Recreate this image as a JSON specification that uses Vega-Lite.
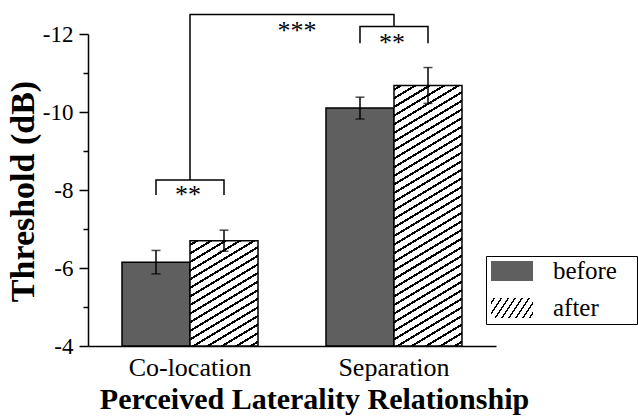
{
 "$schema": "https://vega.github.io/schema/vega-lite/v6.json",
 "width": 408,
 "height": 312,
 "autosize": {"type": "none"},
 "padding": {"left": 88, "top": 34, "right": 142, "bottom": 71},
 "background": "white",
 "config": {"view": {"stroke": null}, "font": "Liberation Serif"},
 "data": {"values": [
  {"group": "Co-location", "cond": "before", "value": -6.15, "lo": -6.45, "hi": -5.85},
  {"group": "Co-location", "cond": "after", "value": -6.70, "lo": -6.97, "hi": -6.43},
  {"group": "Separation", "cond": "before", "value": -10.10, "lo": -10.38, "hi": -9.82},
  {"group": "Separation", "cond": "after", "value": -10.68, "lo": -11.14, "hi": -10.22}
 ]},
 "encoding": {
  "x": {"field": "group", "type": "nominal", "sort": ["Co-location", "Separation"],
   "scale": {"type": "band", "paddingInner": 0.3333, "paddingOuter": 0.1667},
   "title": "Perceived Laterality Relationship",
   "axis": {"domainColor": "black", "domainWidth": 1.5, "ticks": false, "tickSize": 0, "grid": false,
    "labelFont": "Liberation Serif", "labelFontSize": 26, "labelColor": "black", "labelBaseline": "alphabetic", "labelPadding": 29, "labelAngle": 0,
    "titleFont": "Liberation Serif", "titleFontSize": 30, "titleFontWeight": "bold", "titleColor": "black", "titleBaseline": "alphabetic", "titleAlign": "center", "titleX": 226, "titleY": 62}
  },
  "y": {"type": "quantitative",
   "scale": {"domain": [-12, -4], "reverse": true, "nice": false, "zero": false},
   "title": "Threshold (dB)",
   "axis": {"values": [-12, -11, -10, -9, -8, -7, -6, -5, -4],
    "labelExpr": "datum.value % 2 === 0 ? '-' + abs(datum.value) : ''",
    "domainColor": "black", "domainWidth": 1.5, "tickColor": "black", "tickWidth": 1.5,
    "tickSize": {"condition": {"test": "datum.value % 2 === 0", "value": 9}, "value": 5},
    "grid": false, "labelFont": "Liberation Serif", "labelFontSize": 23, "labelColor": "black", "labelPadding": 6,
    "titleFont": "Liberation Serif", "titleFontSize": 34, "titleFontWeight": "bold", "titleColor": "black",
    "titleX": -55, "titleY": 157, "titleAlign": "center", "titleBaseline": "alphabetic", "titleAngle": 270}
  }
 },
 "layer": [
  {
   "mark": {"type": "bar", "stroke": "black", "strokeWidth": 1.5},
   "encoding": {
    "xOffset": {"field": "cond", "type": "nominal", "sort": ["before", "after"], "scale": {"type": "band", "paddingInner": 0, "paddingOuter": 0}},
    "y": {"field": "value", "type": "quantitative"},
    "y2": {"datum": -4},
    "stroke": {"value": "black"},
    "opacity": {
     "field": "cond", "type": "nominal",
     "scale": {"type": "ordinal", "domain": ["before", "after"], "range": [1, 1]},
     "legend": {
      "orient": "none", "legendX": 398, "legendY": 222, "title": null, "padding": 2,
      "symbolType": "M-0.905,-0.895H3.095V1.01H-0.905Z", "symbolSize": 441,
      "symbolStrokeColor": "black", "symbolStrokeWidth": 1.5,
      "labelFont": "Liberation Serif", "labelFontSize": 25, "labelColor": "black", "labelOffset": 40,
      "rowPadding": 10,
      "labelExpr": "datum.label + '\u2800'",
      "strokeColor": "black", "fillColor": "white"
     }
    },
    "fill": {
     "condition": [
      {"test": "datum.cond === 'after' && datum.group === 'Co-location'", "value": {"gradient": "linear", "x1": 0, "y1": 0, "x2": 0.4674, "y2": 1.2063, "stops": [
       {"offset": 0, "color": "#fff"},
       {"offset": 0.02118, "color": "#fff"}, {"offset": 0.02118, "color": "#000"}, {"offset": 0.03765, "color": "#000"}, {"offset": 0.03765, "color": "#fff"},
       {"offset": 0.08, "color": "#fff"}, {"offset": 0.08, "color": "#000"}, {"offset": 0.09647, "color": "#000"}, {"offset": 0.09647, "color": "#fff"},
       {"offset": 0.13882, "color": "#fff"}, {"offset": 0.13882, "color": "#000"}, {"offset": 0.15529, "color": "#000"}, {"offset": 0.15529, "color": "#fff"},
       {"offset": 0.19765, "color": "#fff"}, {"offset": 0.19765, "color": "#000"}, {"offset": 0.21412, "color": "#000"}, {"offset": 0.21412, "color": "#fff"},
       {"offset": 0.25647, "color": "#fff"}, {"offset": 0.25647, "color": "#000"}, {"offset": 0.27294, "color": "#000"}, {"offset": 0.27294, "color": "#fff"},
       {"offset": 0.31529, "color": "#fff"}, {"offset": 0.31529, "color": "#000"}, {"offset": 0.33176, "color": "#000"}, {"offset": 0.33176, "color": "#fff"},
       {"offset": 0.37412, "color": "#fff"}, {"offset": 0.37412, "color": "#000"}, {"offset": 0.39059, "color": "#000"}, {"offset": 0.39059, "color": "#fff"},
       {"offset": 0.43294, "color": "#fff"}, {"offset": 0.43294, "color": "#000"}, {"offset": 0.44941, "color": "#000"}, {"offset": 0.44941, "color": "#fff"},
       {"offset": 0.49176, "color": "#fff"}, {"offset": 0.49176, "color": "#000"}, {"offset": 0.50824, "color": "#000"}, {"offset": 0.50824, "color": "#fff"},
       {"offset": 0.55059, "color": "#fff"}, {"offset": 0.55059, "color": "#000"}, {"offset": 0.56706, "color": "#000"}, {"offset": 0.56706, "color": "#fff"},
       {"offset": 0.60941, "color": "#fff"}, {"offset": 0.60941, "color": "#000"}, {"offset": 0.62588, "color": "#000"}, {"offset": 0.62588, "color": "#fff"},
       {"offset": 0.66824, "color": "#fff"}, {"offset": 0.66824, "color": "#000"}, {"offset": 0.68471, "color": "#000"}, {"offset": 0.68471, "color": "#fff"},
       {"offset": 0.72706, "color": "#fff"}, {"offset": 0.72706, "color": "#000"}, {"offset": 0.74353, "color": "#000"}, {"offset": 0.74353, "color": "#fff"},
       {"offset": 0.78588, "color": "#fff"}, {"offset": 0.78588, "color": "#000"}, {"offset": 0.80235, "color": "#000"}, {"offset": 0.80235, "color": "#fff"},
       {"offset": 0.84471, "color": "#fff"}, {"offset": 0.84471, "color": "#000"}, {"offset": 0.86118, "color": "#000"}, {"offset": 0.86118, "color": "#fff"},
       {"offset": 0.90353, "color": "#fff"}, {"offset": 0.90353, "color": "#000"}, {"offset": 0.92, "color": "#000"}, {"offset": 0.92, "color": "#fff"},
       {"offset": 0.96235, "color": "#fff"}, {"offset": 0.96235, "color": "#000"}, {"offset": 0.97882, "color": "#000"}, {"offset": 0.97882, "color": "#fff"},
       {"offset": 1, "color": "#fff"}
      ]}},
      {"test": "datum.cond === 'after' && datum.group === 'Separation'", "value": {"gradient": "linear", "x1": 0, "y1": 0, "x2": 0.1768, "y2": 1.129, "stops": [
       {"offset": 0, "color": "#fff"},
       {"offset": 0.01029, "color": "#fff"}, {"offset": 0.01029, "color": "#000"}, {"offset": 0.01829, "color": "#000"}, {"offset": 0.01829, "color": "#fff"},
       {"offset": 0.03886, "color": "#fff"}, {"offset": 0.03886, "color": "#000"}, {"offset": 0.04686, "color": "#000"}, {"offset": 0.04686, "color": "#fff"},
       {"offset": 0.06743, "color": "#fff"}, {"offset": 0.06743, "color": "#000"}, {"offset": 0.07543, "color": "#000"}, {"offset": 0.07543, "color": "#fff"},
       {"offset": 0.096, "color": "#fff"}, {"offset": 0.096, "color": "#000"}, {"offset": 0.104, "color": "#000"}, {"offset": 0.104, "color": "#fff"},
       {"offset": 0.12457, "color": "#fff"}, {"offset": 0.12457, "color": "#000"}, {"offset": 0.13257, "color": "#000"}, {"offset": 0.13257, "color": "#fff"},
       {"offset": 0.15314, "color": "#fff"}, {"offset": 0.15314, "color": "#000"}, {"offset": 0.16114, "color": "#000"}, {"offset": 0.16114, "color": "#fff"},
       {"offset": 0.18171, "color": "#fff"}, {"offset": 0.18171, "color": "#000"}, {"offset": 0.18971, "color": "#000"}, {"offset": 0.18971, "color": "#fff"},
       {"offset": 0.21029, "color": "#fff"}, {"offset": 0.21029, "color": "#000"}, {"offset": 0.21829, "color": "#000"}, {"offset": 0.21829, "color": "#fff"},
       {"offset": 0.23886, "color": "#fff"}, {"offset": 0.23886, "color": "#000"}, {"offset": 0.24686, "color": "#000"}, {"offset": 0.24686, "color": "#fff"},
       {"offset": 0.26743, "color": "#fff"}, {"offset": 0.26743, "color": "#000"}, {"offset": 0.27543, "color": "#000"}, {"offset": 0.27543, "color": "#fff"},
       {"offset": 0.296, "color": "#fff"}, {"offset": 0.296, "color": "#000"}, {"offset": 0.304, "color": "#000"}, {"offset": 0.304, "color": "#fff"},
       {"offset": 0.32457, "color": "#fff"}, {"offset": 0.32457, "color": "#000"}, {"offset": 0.33257, "color": "#000"}, {"offset": 0.33257, "color": "#fff"},
       {"offset": 0.35314, "color": "#fff"}, {"offset": 0.35314, "color": "#000"}, {"offset": 0.36114, "color": "#000"}, {"offset": 0.36114, "color": "#fff"},
       {"offset": 0.38171, "color": "#fff"}, {"offset": 0.38171, "color": "#000"}, {"offset": 0.38971, "color": "#000"}, {"offset": 0.38971, "color": "#fff"},
       {"offset": 0.41029, "color": "#fff"}, {"offset": 0.41029, "color": "#000"}, {"offset": 0.41829, "color": "#000"}, {"offset": 0.41829, "color": "#fff"},
       {"offset": 0.43886, "color": "#fff"}, {"offset": 0.43886, "color": "#000"}, {"offset": 0.44686, "color": "#000"}, {"offset": 0.44686, "color": "#fff"},
       {"offset": 0.46743, "color": "#fff"}, {"offset": 0.46743, "color": "#000"}, {"offset": 0.47543, "color": "#000"}, {"offset": 0.47543, "color": "#fff"},
       {"offset": 0.496, "color": "#fff"}, {"offset": 0.496, "color": "#000"}, {"offset": 0.504, "color": "#000"}, {"offset": 0.504, "color": "#fff"},
       {"offset": 0.52457, "color": "#fff"}, {"offset": 0.52457, "color": "#000"}, {"offset": 0.53257, "color": "#000"}, {"offset": 0.53257, "color": "#fff"},
       {"offset": 0.55314, "color": "#fff"}, {"offset": 0.55314, "color": "#000"}, {"offset": 0.56114, "color": "#000"}, {"offset": 0.56114, "color": "#fff"},
       {"offset": 0.58171, "color": "#fff"}, {"offset": 0.58171, "color": "#000"}, {"offset": 0.58971, "color": "#000"}, {"offset": 0.58971, "color": "#fff"},
       {"offset": 0.61029, "color": "#fff"}, {"offset": 0.61029, "color": "#000"}, {"offset": 0.61829, "color": "#000"}, {"offset": 0.61829, "color": "#fff"},
       {"offset": 0.63886, "color": "#fff"}, {"offset": 0.63886, "color": "#000"}, {"offset": 0.64686, "color": "#000"}, {"offset": 0.64686, "color": "#fff"},
       {"offset": 0.66743, "color": "#fff"}, {"offset": 0.66743, "color": "#000"}, {"offset": 0.67543, "color": "#000"}, {"offset": 0.67543, "color": "#fff"},
       {"offset": 0.696, "color": "#fff"}, {"offset": 0.696, "color": "#000"}, {"offset": 0.704, "color": "#000"}, {"offset": 0.704, "color": "#fff"},
       {"offset": 0.72457, "color": "#fff"}, {"offset": 0.72457, "color": "#000"}, {"offset": 0.73257, "color": "#000"}, {"offset": 0.73257, "color": "#fff"},
       {"offset": 0.75314, "color": "#fff"}, {"offset": 0.75314, "color": "#000"}, {"offset": 0.76114, "color": "#000"}, {"offset": 0.76114, "color": "#fff"},
       {"offset": 0.78171, "color": "#fff"}, {"offset": 0.78171, "color": "#000"}, {"offset": 0.78971, "color": "#000"}, {"offset": 0.78971, "color": "#fff"},
       {"offset": 0.81029, "color": "#fff"}, {"offset": 0.81029, "color": "#000"}, {"offset": 0.81829, "color": "#000"}, {"offset": 0.81829, "color": "#fff"},
       {"offset": 0.83886, "color": "#fff"}, {"offset": 0.83886, "color": "#000"}, {"offset": 0.84686, "color": "#000"}, {"offset": 0.84686, "color": "#fff"},
       {"offset": 0.86743, "color": "#fff"}, {"offset": 0.86743, "color": "#000"}, {"offset": 0.87543, "color": "#000"}, {"offset": 0.87543, "color": "#fff"},
       {"offset": 0.896, "color": "#fff"}, {"offset": 0.896, "color": "#000"}, {"offset": 0.904, "color": "#000"}, {"offset": 0.904, "color": "#fff"},
       {"offset": 0.92457, "color": "#fff"}, {"offset": 0.92457, "color": "#000"}, {"offset": 0.93257, "color": "#000"}, {"offset": 0.93257, "color": "#fff"},
       {"offset": 0.95314, "color": "#fff"}, {"offset": 0.95314, "color": "#000"}, {"offset": 0.96114, "color": "#000"}, {"offset": 0.96114, "color": "#fff"},
       {"offset": 0.98171, "color": "#fff"}, {"offset": 0.98171, "color": "#000"}, {"offset": 0.98971, "color": "#000"}, {"offset": 0.98971, "color": "#fff"},
       {"offset": 1, "color": "#fff"}
      ]}}
     ],
     "value": {"expr": "datum.value === 'after' ? {gradient: 'linear', x1: 0, y1: 0, x2: 1.1968, y2: 0.38, stops: [{offset: 0, color: '#fff'}, {offset: 0.0475, color: '#fff'}, {offset: 0.0475, color: '#000'}, {offset: 0.0775, color: '#000'}, {offset: 0.0775, color: '#fff'}, {offset: 0.1725, color: '#fff'}, {offset: 0.1725, color: '#000'}, {offset: 0.2025, color: '#000'}, {offset: 0.2025, color: '#fff'}, {offset: 0.2975, color: '#fff'}, {offset: 0.2975, color: '#000'}, {offset: 0.3275, color: '#000'}, {offset: 0.3275, color: '#fff'}, {offset: 0.4225, color: '#fff'}, {offset: 0.4225, color: '#000'}, {offset: 0.4525, color: '#000'}, {offset: 0.4525, color: '#fff'}, {offset: 0.5475, color: '#fff'}, {offset: 0.5475, color: '#000'}, {offset: 0.5775, color: '#000'}, {offset: 0.5775, color: '#fff'}, {offset: 0.6725, color: '#fff'}, {offset: 0.6725, color: '#000'}, {offset: 0.7025, color: '#000'}, {offset: 0.7025, color: '#fff'}, {offset: 0.7975, color: '#fff'}, {offset: 0.7975, color: '#000'}, {offset: 0.8275, color: '#000'}, {offset: 0.8275, color: '#fff'}, {offset: 0.9225, color: '#fff'}, {offset: 0.9225, color: '#000'}, {offset: 0.9525, color: '#000'}, {offset: 0.9525, color: '#fff'}, {offset: 1, color: '#fff'}]} : '#5f5f5f'"}
    }
   }
  },
  {
   "mark": {"type": "rule", "color": "black", "strokeWidth": 1.5},
   "encoding": {
    "xOffset": {"field": "cond", "type": "nominal", "sort": ["before", "after"], "scale": {"type": "band", "paddingInner": 0, "paddingOuter": 0}},
    "y": {"field": "lo", "type": "quantitative"},
    "y2": {"field": "hi"}
   }
  },
  {
   "mark": {"type": "tick", "color": "black", "size": 9, "thickness": 1.5},
   "encoding": {
    "xOffset": {"field": "cond", "type": "nominal", "sort": ["before", "after"], "scale": {"type": "band", "paddingInner": 0, "paddingOuter": 0}},
    "y": {"field": "lo", "type": "quantitative"}
   }
  },
  {
   "mark": {"type": "tick", "color": "black", "size": 9, "thickness": 1.5},
   "encoding": {
    "xOffset": {"field": "cond", "type": "nominal", "sort": ["before", "after"], "scale": {"type": "band", "paddingInner": 0, "paddingOuter": 0}},
    "y": {"field": "hi", "type": "quantitative"}
   }
  },
  {
   "data": {"values": [
    {"b": "colocation", "group": "Co-location", "cond": "before", "y": -7.87, "k": 1},
    {"b": "colocation", "group": "Co-location", "cond": "before", "y": -8.256, "k": 2},
    {"b": "colocation", "group": "Co-location", "cond": "after", "y": -8.256, "k": 3},
    {"b": "colocation", "group": "Co-location", "cond": "after", "y": -7.87, "k": 4},
    {"b": "separation", "group": "Separation", "cond": "before", "y": -11.76, "k": 1},
    {"b": "separation", "group": "Separation", "cond": "before", "y": -12.19, "k": 2},
    {"b": "separation", "group": "Separation", "cond": "after", "y": -12.19, "k": 3},
    {"b": "separation", "group": "Separation", "cond": "after", "y": -11.76, "k": 4}
   ]},
   "mark": {"type": "line", "color": "black", "strokeWidth": 1.5},
   "encoding": {
    "xOffset": {"field": "cond", "type": "nominal", "sort": ["before", "after"], "scale": {"type": "band", "paddingInner": 0, "paddingOuter": 0}},
    "y": {"field": "y", "type": "quantitative"},
    "detail": {"field": "b"},
    "order": {"field": "k"}
   }
  },
  {
   "data": {"values": [
    {"group": "Co-location", "y": -8.256, "k": 1},
    {"group": "Co-location", "y": -12.5, "k": 2},
    {"group": "Separation", "y": -12.5, "k": 3},
    {"group": "Separation", "y": -12.19, "k": 4}
   ]},
   "mark": {"type": "line", "color": "black", "strokeWidth": 1.5},
   "encoding": {
    "y": {"field": "y", "type": "quantitative"},
    "order": {"field": "k"}
   }
  },
  {
   "data": {"values": [
    {"group": "Co-location", "t": "**", "y": -7.67},
    {"group": "Separation", "t": "**", "y": -11.56}
   ]},
   "mark": {"type": "text", "font": "Liberation Serif", "fontSize": 26, "baseline": "alphabetic", "align": "center", "dx": -2, "color": "black"},
   "encoding": {
    "y": {"field": "y", "type": "quantitative"},
    "text": {"field": "t"}
   }
  },
  {
   "data": {"values": [
    {"group": "Co-location", "t": "***", "y": -11.867}
   ]},
   "mark": {"type": "text", "font": "Liberation Serif", "fontSize": 26, "baseline": "alphabetic", "align": "center", "dx": 107, "color": "black"},
   "encoding": {
    "y": {"field": "y", "type": "quantitative"},
    "text": {"field": "t"}
   }
  }
 ]
}
